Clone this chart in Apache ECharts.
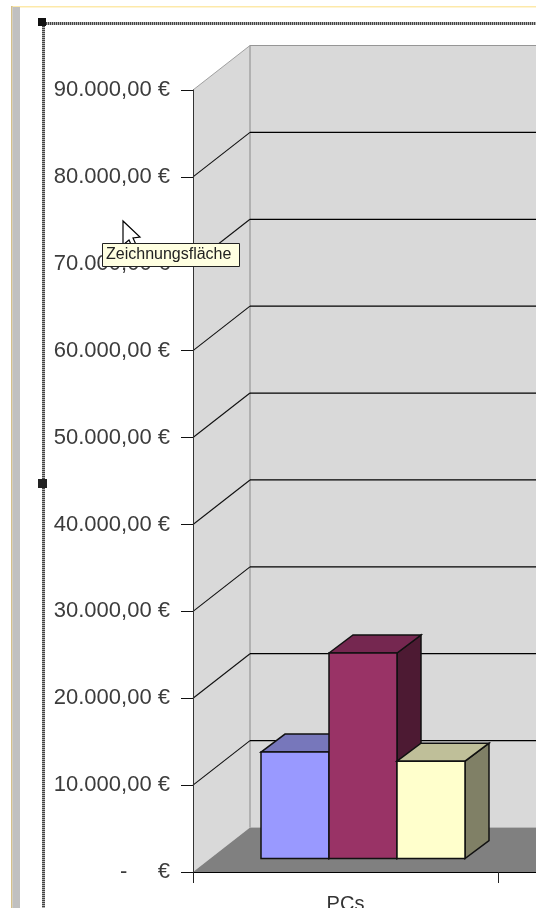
<!DOCTYPE html>
<html>
<head>
<meta charset="utf-8">
<style>html,body{margin:0;padding:0;background:#fff;overflow:hidden}#chart{width:536px;height:908px}</style>
<script src="https://cdn.jsdelivr.net/npm/echarts@6/dist/echarts.min.js"></script>
</head>
<body>
<div id="chart"></div>
<script>
const categories = ['PCs', ''];
const yTicks = [10000, 20000, 30000, 40000, 50000, 60000, 70000, 80000];
const seriesA = [[0, 12250]];
const seriesB = [[0, 23650]];
const seriesC = [[0, 11200]];
const hoverLabel = 'Zeichnungsfläche';

const WALL = [57, -44.5];
const INSET = [17.5, -13.5];
const DEPTH = [24, -18];
const BAR_W = 68;
const FONT = '"Liberation Sans", Arial, sans-serif';

function fmtY(v) {
  if (v === 0) return '-\u00a0\u00a0\u00a0\u00a0\u00a0€';
  return (v / 1000) + '.000,00 €';
}
function poly(points, fill, stroke, lw) {
  return { type: 'polygon', shape: { points }, style: { fill, stroke: stroke || null, lineWidth: lw || 0 } };
}
function seg(a, b, stroke, lw) {
  return { type: 'line', shape: { x1: a[0], y1: a[1], x2: b[0], y2: b[1] }, style: { stroke, lineWidth: lw || 1 } };
}
function wallsItem(params, api) {
  const band = api.size([1, 0])[0];
  const o = api.coord([0, 0]); o[0] -= band / 2;
  const t = api.coord([0, 90000]); t[0] -= band / 2;
  const rx = api.coord([1, 0])[0] + band / 2;
  const d = WALL, c = '#d9d9d9', e = '#969696';
  const bl = [o[0] + d[0], o[1] + d[1]], tl = [t[0] + d[0], t[1] + d[1]];
  return { type: 'group', children: [
    poly([[o[0], o[1]], [t[0], t[1]], tl, bl], c),
    poly([tl, [rx + d[0], tl[1]], [rx + d[0], bl[1]], bl], c),
    poly([[o[0], o[1]], bl, [rx + d[0], bl[1]], [rx, o[1]]], '#808080'),
    seg([t[0], t[1]], tl, '#a0a0a0'),
    seg(tl, [rx + d[0], tl[1]], '#969696'),
    seg(tl, bl, e, 1.2)
  ] };
}
function gridItem(params, api) {
  const band = api.size([1, 0])[0];
  const p = api.coord([0, api.value(1)]); p[0] -= band / 2;
  const rx = api.coord([1, 0])[0] + band / 2;
  const b = [p[0] + WALL[0], p[1] + WALL[1]];
  return { type: 'group', children: [
    seg(p, b, '#111', 1.1),
    seg(b, [rx + WALL[0], b[1]], '#000', 1.3)
  ] };
}
function barItem(offset, front, top, side) {
  return function (params, api) {
    const cat = api.value(0);
    const z = api.coord([cat, 0]), v = api.coord([cat, api.value(1)]);
    const x0 = z[0] + INSET[0] + (offset - 0.5) * BAR_W, x1 = x0 + BAR_W;
    const yb = z[1] + INSET[1], yt = v[1] + INSET[1];
    const dx = DEPTH[0], dy = DEPTH[1], k = '#111', lw = 1.5;
    return { type: 'group', children: [
      poly([[x1, yt], [x1 + dx, yt + dy], [x1 + dx, yb + dy], [x1, yb]], side, k, lw),
      poly([[x0, yt], [x0 + dx, yt + dy], [x1 + dx, yt + dy], [x1, yt]], top, k, lw),
      poly([[x0, yt], [x1, yt], [x1, yb], [x0, yb]], front, k, lw)
    ] };
  };
}
const chart = echarts.init(document.getElementById('chart'), null, { renderer: 'canvas' });
chart.setOption({
  animation: false,
  backgroundColor: '#fff',
  tooltip: { show: false },
  grid: { left: 193, top: 90, width: 610, height: 782, outerBoundsMode: 'none' },
  xAxis: {
    type: 'category', data: categories, z: 10,
    axisLine: { lineStyle: { color: '#000', width: 1 } },
    axisTick: { show: true, length: 11, lineStyle: { color: '#222' } },
    axisLabel: { fontFamily: FONT, fontSize: 20, color: '#333', margin: 22 }
  },
  yAxis: {
    type: 'value', min: 0, max: 90000, interval: 10000, z: 10,
    splitLine: { show: false },
    axisLine: { show: true, lineStyle: { color: '#333', width: 1 } },
    axisTick: { show: true, length: 12, lineStyle: { color: '#111' } },
    axisLabel: { fontFamily: FONT, fontSize: 22, color: '#3c3c3c', margin: 23, formatter: fmtY }
  },
  series: [
    { type: 'custom', name: 'Wände', z: 1, silent: true, coordinateSystem: 'cartesian2d', data: [[0, 0]], renderItem: wallsItem },
    { type: 'custom', name: 'Raster', z: 2, silent: true, data: yTicks.map(v => [0, v]), renderItem: gridItem },
    { type: 'custom', name: 'A', z: 3, silent: true, data: seriesA, renderItem: barItem(-1, '#9999ff', '#7777bb', '#4d4d80') },
    { type: 'custom', name: 'B', z: 4, silent: true, data: seriesB, renderItem: barItem(0, '#993366', '#752750', '#4d1a33') },
    { type: 'custom', name: 'C', z: 5, silent: true, data: seriesC, renderItem: barItem(1, '#ffffcc', '#bfbf99', '#808066') }
  ],
  graphic: [
    { type: 'rect', z: 100, silent: true, shape: { x: 11, y: 6, width: 525, height: 1.5 }, style: { fill: '#fde9a9' } },
    { type: 'rect', z: 100, silent: true, shape: { x: 11, y: 6, width: 1.5, height: 902 }, style: { fill: '#d4c08a' } },
    { type: 'rect', z: 100, silent: true, shape: { x: 12.5, y: 7, width: 7.5, height: 901 }, style: { fill: '#c0c0c0' } },
    { type: 'rect', z: 100, silent: true, shape: { x: 42, y: 22, width: 3, height: 886 }, style: { fill: '#b0b0b0' } },
    { type: 'rect', z: 100, silent: true, shape: { x: 42, y: 22, width: 494, height: 3 }, style: { fill: '#b0b0b0' } },
    { type: 'line', z: 100, silent: true, shape: { x1: 43.5, y1: 22, x2: 43.5, y2: 908 }, style: { stroke: '#444', lineWidth: 3, lineDash: [1, 1] } },
    { type: 'line', z: 100, silent: true, shape: { x1: 42, y1: 23.5, x2: 536, y2: 23.5 }, style: { stroke: '#444', lineWidth: 3, lineDash: [1, 1] } },
    { type: 'rect', z: 101, silent: true, shape: { x: 38, y: 18, width: 8, height: 8 }, style: { fill: '#111' } },
    { type: 'rect', z: 101, silent: true, shape: { x: 38, y: 479, width: 9, height: 9 }, style: { fill: '#222' } },
    { type: 'polygon', z: 102, silent: true, shape: { points: [[123, 221], [123, 245], [129, 240], [134, 251], [138, 249], [133, 238], [140, 237]] }, style: { fill: '#fff', stroke: '#000', lineWidth: 1.2 } },
    { type: 'rect', z: 103, silent: true, shape: { x: 102.5, y: 243.5, width: 137, height: 23 }, style: { fill: '#ffffe1', stroke: '#222', lineWidth: 1 } },
    { type: 'text', z: 104, silent: true, x: 106, y: 255, style: { text: hoverLabel, font: '16px ' + FONT, fill: '#222', verticalAlign: 'middle', align: 'left' } }
  ]
});
</script>
</body>
</html>
